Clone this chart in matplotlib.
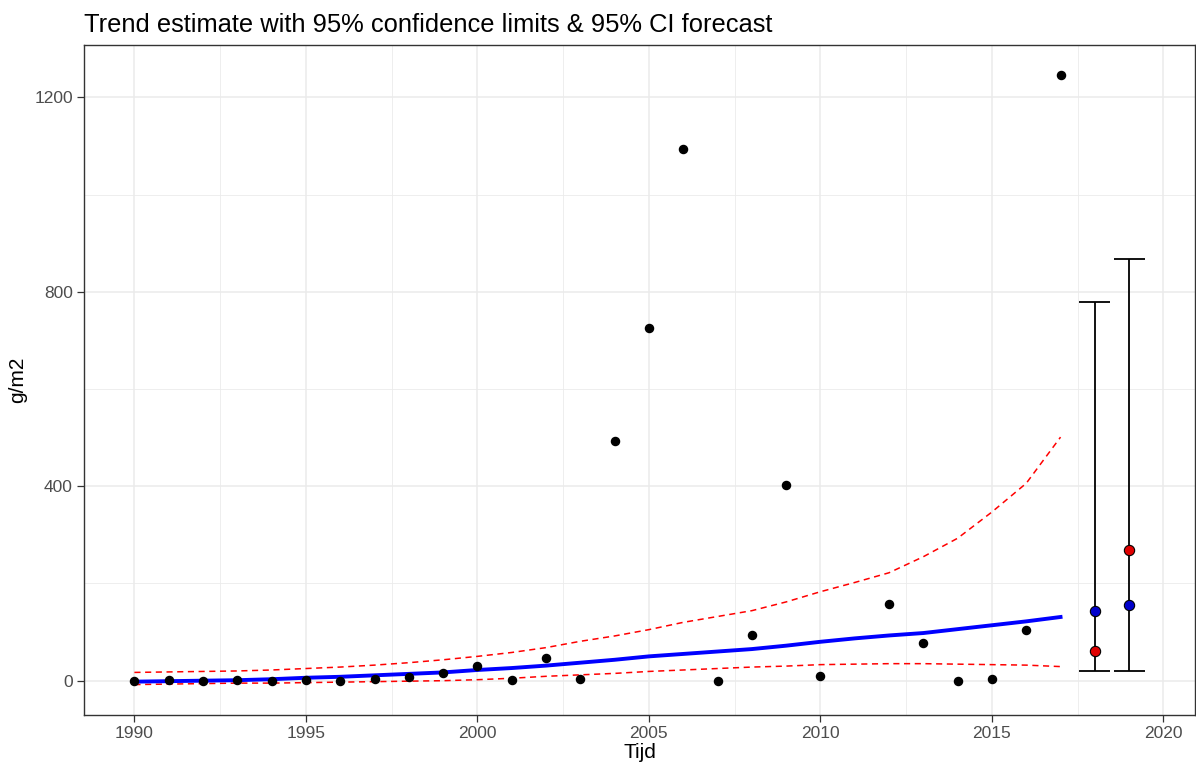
import numpy as np
import matplotlib
matplotlib.use("Agg")
import matplotlib.pyplot as plt
from matplotlib.ticker import MultipleLocator

plt.rcParams['font.family'] = ['Liberation Sans', 'DejaVu Sans']

# observed yearly values (no observation in 2011)
years = [1990, 1991, 1992, 1993, 1994, 1995, 1996, 1997, 1998, 1999,
         2000, 2001, 2002, 2003, 2004, 2005, 2006, 2007, 2008, 2009,
         2010, 2012, 2013, 2014, 2015, 2016, 2017]
values = [0, 1, 0, 1, 0, 1, 0, 4, 8, 16,
          31, 2, 47, 3, 494, 726, 1093, 0, 94, 402,
          9, 158, 77, 0, 3, 105, 1245]

# fitted trend with 95% confidence limits
trend_years = list(range(1990, 2018))
trend = [-2, -1, 0, 1, 3, 6, 8, 11, 14, 17,
         22, 26, 31, 37, 43, 50, 55, 60, 65, 72,
         80, 87, 93, 98, 106, 114, 122, 131]
upper = [17, 18, 19, 20, 22, 25, 28, 32, 37, 43,
         50, 58, 68, 81, 92, 105, 120, 132, 144, 162,
         183, 202, 222, 255, 293, 347, 406, 501]
lower = [-8, -7, -6, -5, -5, -4, -3, -2, -1, 0,
         2, 5, 9, 12, 15, 19, 22, 25, 28, 30,
         33, 34, 35, 35, 34, 33, 32, 29]

# forecast with 95% CI
fc_years = [2018, 2019]
fc_trend = [144, 155]
fc_mean = [62, 269]
fc_low = [20, 20]
fc_high = [779, 867]

fig = plt.figure(figsize=(11.96, 7.69), dpi=100)
ax = fig.add_axes([84 / 1196, 54 / 769, 1111 / 1196, 670 / 769])

ax.plot(trend_years, upper, color="red", lw=1.1, ls=(0, (4, 3)), zorder=3)
ax.plot(trend_years, lower, color="red", lw=1.1, ls=(0, (4, 3)), zorder=3)
ax.plot(trend_years, trend, color="#0000FF", lw=2.8, zorder=4)
ax.scatter(years, values, s=34, color="black", zorder=5)

# forecast error bars with caps of width 0.9
ax.vlines(fc_years, fc_low, fc_high, color="black", lw=1.3, zorder=4)
for x, lo, hi in zip(fc_years, fc_low, fc_high):
    ax.hlines([lo, hi], x - 0.45, x + 0.45, color="black", lw=1.3, zorder=4)
ax.scatter(fc_years, fc_mean, s=55, color="#E00000", edgecolor="black", lw=0.8, zorder=6)
ax.scatter(fc_years, fc_trend, s=55, color="#0000CC", edgecolor="black", lw=0.8, zorder=6)

ax.set_xlim(1988.53, 2020.92)
ax.set_ylim(-70.6, 1307.6)
ax.xaxis.set_major_locator(MultipleLocator(5))
ax.xaxis.set_minor_locator(MultipleLocator(2.5))
ax.yaxis.set_major_locator(MultipleLocator(400))
ax.yaxis.set_minor_locator(MultipleLocator(200))
ax.grid(which="major", color="#EBEBEB", lw=1.1)
ax.grid(which="minor", color="#EBEBEB", lw=0.6)
ax.set_axisbelow(True)
ax.tick_params(which="major", length=5, width=0.9, color="#333333",
               labelcolor="#4D4D4D", labelsize=12.5, pad=3)
ax.tick_params(which="minor", length=0)
for sp in ax.spines.values():
    sp.set_color("#333333")
    sp.set_linewidth(1.0)

ax.set_xlabel("Tijd", fontsize=15, labelpad=1)
ax.set_ylabel("g/m2", fontsize=15, labelpad=5)
ax.set_title("Trend estimate with 95% confidence limits & 95% CI forecast",
             loc="left", fontsize=18.4, pad=9)

fig.savefig("out.png", dpi=100)
